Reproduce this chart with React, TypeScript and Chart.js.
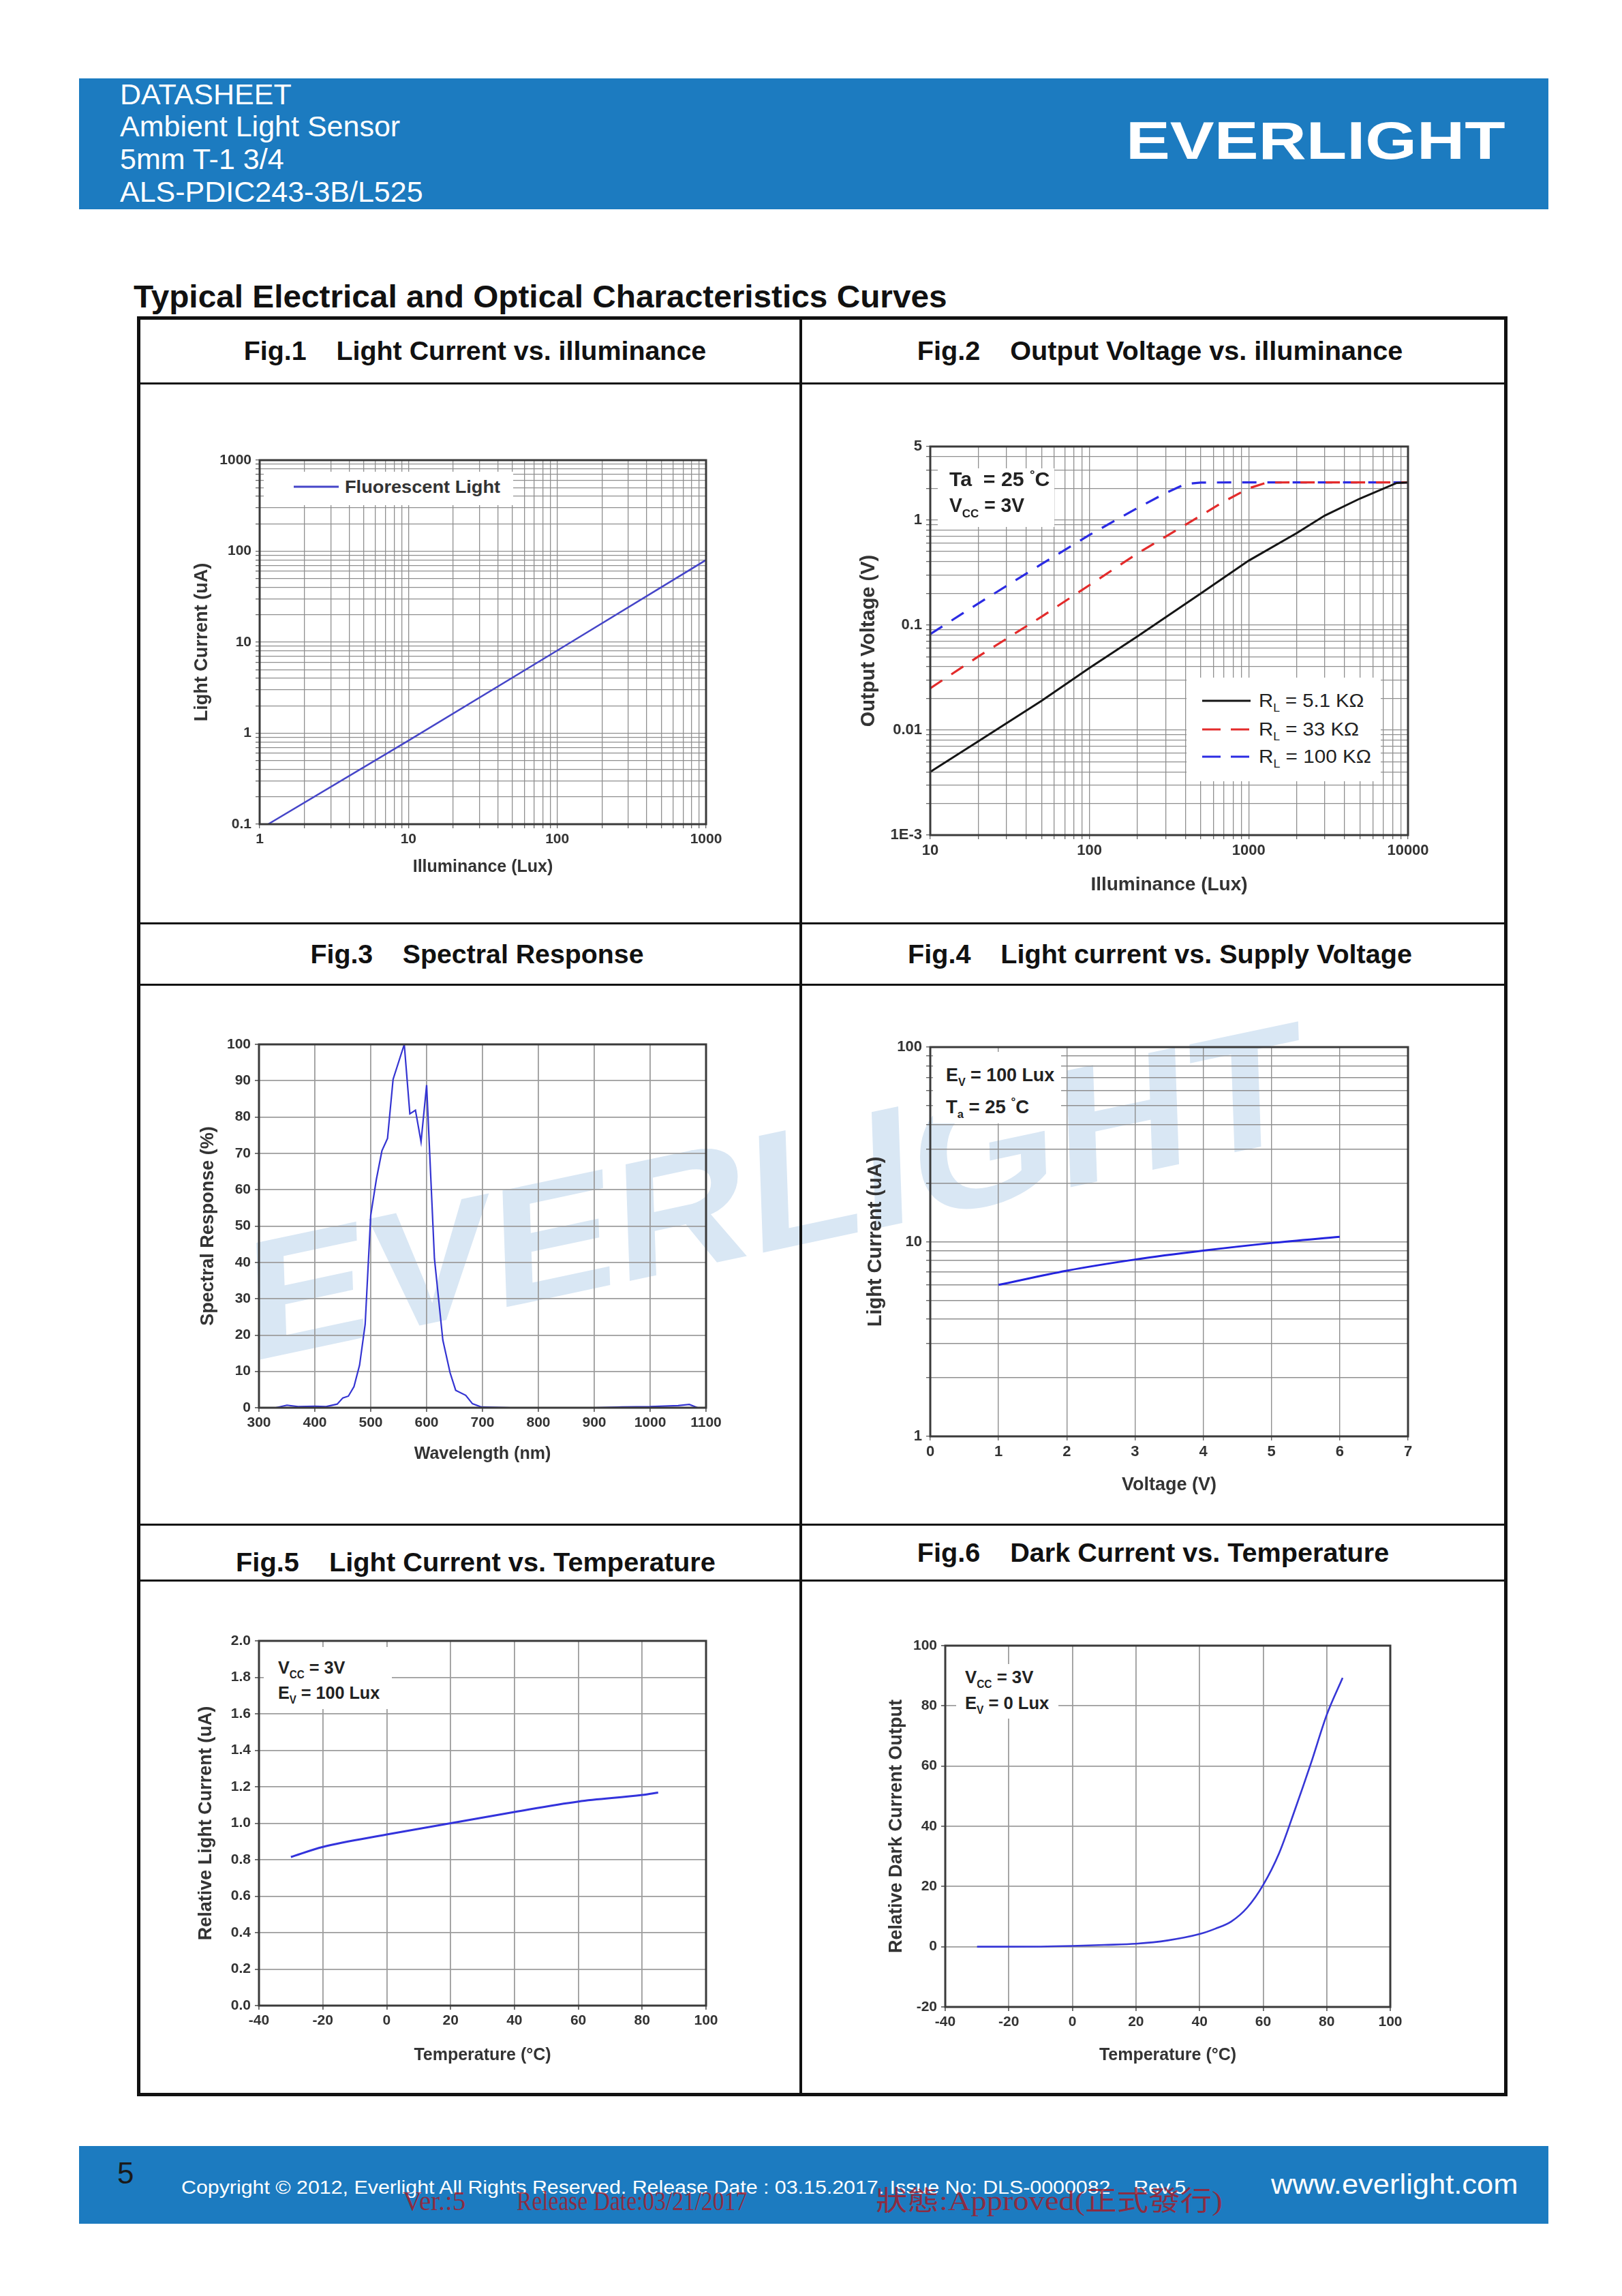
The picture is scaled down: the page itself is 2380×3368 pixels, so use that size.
import React, { useEffect, useLayoutEffect, useRef, useState } from 'react';
import { Chart, registerables } from 'chart.js';
Chart.register(...registerables);

const FONT = "'Liberation Sans', Arial, sans-serif";
const SERIF = "'Liberation Serif', 'Noto Sans CJK TC', serif";

// ---------------- data ----------------
// Fig.1 Light Current vs. illuminance
const fig1Lux = [1.14, 10, 100, 1000];
const fig1Current = [0.1, 0.83, 8.1, 80];
const fig1XTickValues = [1, 10, 100, 1000];
const fig1XTickLabels = ['1', '10', '100', '1000'];
const fig1YTickValues = [0.1, 1, 10, 100, 1000];
const fig1YTickLabels = ['0.1', '1', '10', '100', '1000'];

// Fig.2 Output Voltage vs. illuminance
const fig2Lux5k = [10, 20, 50, 100, 200, 500, 1000, 2000, 3000, 5000, 8500, 10000];
const fig2Volt5k = [0.004, 0.0078, 0.019, 0.039, 0.078, 0.2, 0.41, 0.75, 1.1, 1.6, 2.25, 2.27];
const fig2Lux33k = [10, 20, 50, 100, 200, 400, 700, 1000, 1300, 2000, 5000, 10000];
const fig2Volt33k = [0.025, 0.05, 0.12, 0.24, 0.48, 0.9, 1.5, 2.0, 2.27, 2.28, 2.28, 2.28];
const fig2Lux100k = [10, 20, 50, 100, 200, 300, 400, 500, 1000, 10000];
const fig2Volt100k = [0.082, 0.16, 0.38, 0.72, 1.3, 1.8, 2.2, 2.27, 2.28, 2.28];
const fig2XTickValues = [10, 100, 1000, 10000];
const fig2XTickLabels = ['10', '100', '1000', '10000'];
const fig2YTickValues = [0.001, 0.01, 0.1, 1, 5];
const fig2YTickLabels = ['1E-3', '0.01', '0.1', '1', '5'];

// Fig.3 Spectral Response
const fig3Wavelength = [330, 350, 370, 400, 420, 440, 450, 460, 470, 480, 490, 500, 510, 520, 530, 540, 560, 570, 580, 590, 600, 614, 629, 642, 652, 670, 682, 698, 750, 900, 950, 1000, 1050, 1070, 1085];
const fig3Response = [0, 0.7, 0.3, 0.4, 0.3, 1.0, 2.7, 3.2, 5.8, 11.7, 22.9, 53, 62.8, 70.7, 74.1, 90.4, 100, 80.9, 81.9, 73.2, 88.8, 41, 18.6, 9.6, 4.8, 3.4, 1.1, 0.2, 0, 0, 0.2, 0.3, 0.6, 0.9, 0];
const fig3XTicks = [300, 400, 500, 600, 700, 800, 900, 1000, 1100];
const fig3YTicks = [0, 10, 20, 30, 40, 50, 60, 70, 80, 90, 100];

// Fig.4 Light current vs. Supply Voltage
const fig4Voltage = [1, 2, 3, 4, 5, 6];
const fig4Current = [6.0, 7.1, 8.1, 9.0, 9.85, 10.6];
const fig4XTicks = [0, 1, 2, 3, 4, 5, 6, 7];
const fig4YTickValues = [1, 10, 100];
const fig4YTickLabels = ['1', '10', '100'];

// Fig.5 Light Current vs. Temperature
const fig5Temp = [-30, -20, 0, 20, 40, 60, 80, 85];
const fig5Relative = [0.815, 0.87, 0.938, 1.0, 1.062, 1.119, 1.155, 1.168];
const fig5XTicks = [-40, -20, 0, 20, 40, 60, 80, 100];
const fig5YTicks = [0, 0.2, 0.4, 0.6, 0.8, 1.0, 1.2, 1.4, 1.6, 1.8, 2.0];

// Fig.6 Dark Current vs. Temperature
const fig6Temp = [-30, -10, 0, 10, 20, 30, 40, 45, 50, 55, 60, 65, 70, 75, 80, 85];
const fig6Dark = [0, 0.05, 0.25, 0.6, 1.0, 2.1, 4.2, 6.0, 8.4, 13, 20.5, 31, 45.5, 60.8, 77, 89.3];
const fig6XTicks = [-40, -20, 0, 20, 40, 60, 80, 100];
const fig6YTicks = [-20, 0, 20, 40, 60, 80, 100];

// ---------------- helpers ----------------
function logGrid(min: number, max: number): number[] {
  const out: number[] = [];
  for (let e = Math.floor(Math.log10(min)); e <= Math.ceil(Math.log10(max)); e++) {
    for (let m = 1; m <= 9; m++) {
      const v = parseFloat((m * Math.pow(10, e)).toPrecision(6));
      if (v >= min * 0.9999 && v <= max * 1.0001) out.push(v);
    }
  }
  return out;
}
function labelFor(values: number[], labels: string[]) {
  return (v: number) => {
    const i = values.findIndex((t) => Math.abs(t - v) <= Math.abs(t) * 1e-6 + 1e-9);
    return i >= 0 ? labels[i] : '';
  };
}
const pts = (xs: number[], ys: number[]) => xs.map((x, i) => ({ x, y: ys[i] }));

type AxisSpec = {
  type: 'linear' | 'logarithmic';
  min: number;
  max: number;
  grid: number[];
  tickValues: number[];
  tickLabels: string[];
  title: string;
  titleSize: number;
  titlePos: number;
};
type Box = { l: number; t: number; r: number; b: number };
type ChartSpec = {
  plot: Box;
  x: AxisSpec;
  y: AxisSpec;
  datasets: any[];
  gridColor: string;
  gridWidth: number;
  tickSize: number;
};
const PAD = { l: 120, t: 30, r: 50, b: 110 };

const framePlugin = {
  id: 'frame',
  afterDatasetsDraw(chart: any) {
    const { ctx, chartArea: a } = chart;
    ctx.save();
    ctx.strokeStyle = '#3a3a3a';
    ctx.lineWidth = 3;
    ctx.strokeRect(a.left, a.top, a.right - a.left, a.bottom - a.top);
    ctx.restore();
  },
};

function buildConfig(spec: ChartSpec) {
  const { plot, x, y, datasets, gridColor, gridWidth, tickSize } = spec;
  const canvasLeft = plot.l - PAD.l;
  const canvasBottom = plot.b + PAD.b;
  const axis = (a: AxisSpec, horizontal: boolean) => ({
    type: a.type,
    min: a.min,
    max: a.max,
    position: horizontal ? 'bottom' : 'left',
    afterBuildTicks: (s: any) => {
      s.ticks = a.grid.map((v) => ({ value: v }));
    },
    afterFit: (s: any) => {
      if (horizontal) s.height = PAD.b;
      else s.width = PAD.l;
      s.paddingLeft = 0;
      s.paddingRight = 0;
      s.paddingTop = 0;
      s.paddingBottom = 0;
    },
    ticks: {
      autoSkip: false,
      maxRotation: 0,
      minRotation: 0,
      padding: horizontal ? 4 : 6,
      color: '#333',
      font: { family: FONT, size: tickSize, weight: 'bold' },
      callback: (v: any) => labelFor(a.tickValues, a.tickLabels)(Number(v)),
    },
    grid: { color: gridColor, lineWidth: gridWidth, drawTicks: true, tickLength: 6, tickColor: '#666' },
    border: { display: false },
    title: {
      display: true,
      text: a.title,
      color: '#333',
      font: { family: FONT, size: a.titleSize, weight: 'bold' },
      padding: horizontal
        ? { top: 0, bottom: canvasBottom - a.titlePos - 0.6 * a.titleSize }
        : { top: a.titlePos - canvasLeft - 0.6 * a.titleSize, bottom: 0 },
    },
  });
  return {
    type: 'line',
    data: { datasets },
    options: {
      responsive: false,
      animation: false,
      devicePixelRatio: 1,
      events: [],
      layout: { padding: { left: 0, top: PAD.t, right: PAD.r, bottom: 0 } },
      plugins: { legend: { display: false }, tooltip: { enabled: false } },
      scales: { x: axis(x, true), y: axis(y, false) },
    },
    plugins: [framePlugin],
  };
}

function ChartBox({ spec }: { spec: ChartSpec }) {
  const ref = useRef<HTMLCanvasElement>(null);
  useEffect(() => {
    const c = new Chart(ref.current as HTMLCanvasElement, buildConfig(spec) as any);
    return () => c.destroy();
  }, []);
  const w = spec.plot.r - spec.plot.l + PAD.l + PAD.r;
  const h = spec.plot.b - spec.plot.t + PAD.t + PAD.b;
  return (
    <canvas
      ref={ref}
      width={w}
      height={h}
      style={{ position: 'absolute', left: spec.plot.l - PAD.l, top: spec.plot.t - PAD.t, width: w, height: h }}
    />
  );
}

type TxtProps = {
  x: number;
  y: number;
  size: number;
  weight?: any;
  color?: string;
  family?: string;
  center?: boolean;
  width?: number;
  children: React.ReactNode;
};
function Txt({ x, y, size, weight = 'normal', color = '#000', family = FONT, center = false, width, children }: TxtProps) {
  const ref = useRef<HTMLSpanElement>(null);
  const [sx, setSx] = useState(1);
  useLayoutEffect(() => {
    if (width && ref.current) {
      const w = ref.current.offsetWidth;
      if (w > 0) setSx(width / w);
    }
  }, [width]);
  return (
    <span
      ref={ref}
      style={{
        position: 'absolute',
        left: x,
        top: y - 0.8465 * size,
        fontSize: size,
        lineHeight: `${size}px`,
        fontWeight: weight,
        color,
        fontFamily: family,
        whiteSpace: 'nowrap',
        display: 'inline-block',
        transform: center ? `translateX(-50%) scaleX(${sx})` : `scaleX(${sx})`,
        transformOrigin: center ? '50% 50%' : '0 50%',
      }}
    >
      {children}
    </span>
  );
}
const Sub = ({ children }: { children: React.ReactNode }) => (
  <span style={{ fontSize: '0.6em', position: 'relative', top: '0.45em' }}>{children}</span>
);
const Deg = () => <span style={{ fontSize: '0.62em', position: 'relative', top: '-0.65em' }}>°</span>;

const WhiteBox = ({ l, t, w, h }: { l: number; t: number; w: number; h: number }) => (
  <div style={{ position: 'absolute', left: l, top: t, width: w, height: h, background: '#fff' }} />
);
const HLine = ({ y, h = 3 }: { y: number; h?: number }) => (
  <div style={{ position: 'absolute', left: 201, top: y, width: 2011, height: h, background: '#111' }} />
);
function LegendLine({ x, y, w, color, dash }: { x: number; y: number; w: number; color: string; dash?: string }) {
  return (
    <svg style={{ position: 'absolute', left: x, top: y - 4, overflow: 'visible' }} width={w} height={8}>
      <line x1={0} y1={4} x2={w} y2={4} stroke={color} strokeWidth={3} strokeDasharray={dash} />
    </svg>
  );
}

// ---------------- chart specs ----------------
const lineDs = (data: any[], color: string, width: number, extra: any = {}) => ({
  data,
  borderColor: color,
  backgroundColor: color,
  borderWidth: width,
  pointRadius: 0,
  fill: false,
  tension: 0,
  ...extra,
});

const fig1Spec: ChartSpec = {
  plot: { l: 381, t: 675, r: 1036, b: 1209 },
  x: { type: 'logarithmic', min: 1, max: 1000, grid: logGrid(1, 1000), tickValues: fig1XTickValues, tickLabels: fig1XTickLabels, title: 'Illuminance (Lux)', titleSize: 25, titlePos: 1272 },
  y: { type: 'logarithmic', min: 0.1, max: 1000, grid: logGrid(0.1, 1000), tickValues: fig1YTickValues, tickLabels: fig1YTickLabels, title: 'Light Current (uA)', titleSize: 27, titlePos: 297 },
  datasets: [lineDs(pts(fig1Lux, fig1Current), '#4545c8', 2.5)],
  gridColor: '#8f8f8f',
  gridWidth: 1.3,
  tickSize: 21,
};

const fig2Spec: ChartSpec = {
  plot: { l: 1365, t: 655, r: 2066, b: 1225 },
  x: { type: 'logarithmic', min: 10, max: 10000, grid: logGrid(10, 10000), tickValues: fig2XTickValues, tickLabels: fig2XTickLabels, title: 'Illuminance (Lux)', titleSize: 28, titlePos: 1298 },
  y: { type: 'logarithmic', min: 0.001, max: 5, grid: logGrid(0.001, 5), tickValues: fig2YTickValues, tickLabels: fig2YTickLabels, title: 'Output Voltage (V)', titleSize: 29, titlePos: 1275 },
  datasets: [
    lineDs(pts(fig2Lux5k, fig2Volt5k), '#151515', 3),
    lineDs(pts(fig2Lux33k, fig2Volt33k), '#e32b2b', 3.2, { borderDash: [21, 16] }),
    lineDs(pts(fig2Lux100k, fig2Volt100k), '#2b2be3', 3.2, { borderDash: [21, 16] }),
  ],
  gridColor: '#8f8f8f',
  gridWidth: 1.3,
  tickSize: 22,
};

const fig3Spec: ChartSpec = {
  plot: { l: 380, t: 1532, r: 1036, b: 2065 },
  x: { type: 'linear', min: 300, max: 1100, grid: fig3XTicks, tickValues: fig3XTicks, tickLabels: fig3XTicks.map(String), title: 'Wavelength (nm)', titleSize: 25, titlePos: 2133 },
  y: { type: 'linear', min: 0, max: 100, grid: fig3YTicks, tickValues: fig3YTicks, tickLabels: fig3YTicks.map(String), title: 'Spectral Response (%)', titleSize: 27, titlePos: 306 },
  datasets: [lineDs(pts(fig3Wavelength, fig3Response), '#3434d2', 2.2)],
  gridColor: '#9c9c9c',
  gridWidth: 1.8,
  tickSize: 21,
};

const fig4Spec: ChartSpec = {
  plot: { l: 1365, t: 1536, r: 2066, b: 2107 },
  x: { type: 'linear', min: 0, max: 7, grid: fig4XTicks, tickValues: fig4XTicks, tickLabels: fig4XTicks.map(String), title: 'Voltage (V)', titleSize: 27, titlePos: 2179 },
  y: { type: 'logarithmic', min: 1, max: 100, grid: logGrid(1, 100), tickValues: fig4YTickValues, tickLabels: fig4YTickLabels, title: 'Light Current (uA)', titleSize: 29, titlePos: 1285 },
  datasets: [lineDs(pts(fig4Voltage, fig4Current), '#2424de', 3, { cubicInterpolationMode: 'monotone' })],
  gridColor: '#8f8f8f',
  gridWidth: 1.4,
  tickSize: 22,
};

const fig5Spec: ChartSpec = {
  plot: { l: 380, t: 2407, r: 1036, b: 2942 },
  x: { type: 'linear', min: -40, max: 100, grid: fig5XTicks, tickValues: fig5XTicks, tickLabels: fig5XTicks.map(String), title: 'Temperature (°C)', titleSize: 25, titlePos: 3015 },
  y: { type: 'linear', min: 0, max: 2, grid: fig5YTicks, tickValues: fig5YTicks, tickLabels: fig5YTicks.map((v) => v.toFixed(1)), title: 'Relative Light Current (uA)', titleSize: 27, titlePos: 303 },
  datasets: [lineDs(pts(fig5Temp, fig5Relative), '#3333dc', 3, { cubicInterpolationMode: 'monotone' })],
  gridColor: '#9c9c9c',
  gridWidth: 1.8,
  tickSize: 21,
};

const fig6Spec: ChartSpec = {
  plot: { l: 1387, t: 2414, r: 2040, b: 2944 },
  x: { type: 'linear', min: -40, max: 100, grid: fig6XTicks, tickValues: fig6XTicks, tickLabels: fig6XTicks.map(String), title: 'Temperature (°C)', titleSize: 25, titlePos: 3015 },
  y: { type: 'linear', min: -20, max: 100, grid: fig6YTicks, tickValues: fig6YTicks, tickLabels: fig6YTicks.map(String), title: 'Relative Dark Current Output', titleSize: 27, titlePos: 1316 },
  datasets: [lineDs(pts(fig6Temp, fig6Dark), '#3636d6', 2.6, { cubicInterpolationMode: 'monotone' })],
  gridColor: '#9c9c9c',
  gridWidth: 1.8,
  tickSize: 21,
};

const BLUE = '#1c7bc0';
const NB = '\u00a0\u00a0\u00a0\u00a0';
const RED = 'rgba(160,30,45,0.85)';

export default function App() {
  return (
    <div style={{ position: 'absolute', left: 0, top: 0, width: 2380, height: 3368, background: '#fff', overflow: 'hidden', fontFamily: FONT }}>
      {/* header */}
      <div style={{ position: 'absolute', left: 116, top: 115, width: 2156, height: 192, background: BLUE }} />
      <Txt x={176} y={153} size={43} color="#fff">DATASHEET</Txt>
      <Txt x={176} y={200} size={43} color="#fff">Ambient Light Sensor</Txt>
      <Txt x={176} y={248} size={43} color="#fff">5mm T-1 3/4</Txt>
      <Txt x={176} y={296} size={43} color="#fff">ALS-PDIC243-3B/L525</Txt>
      <Txt x={1652} y={233} size={77} weight={900} color="#fff" width={557}>EVERLIGHT</Txt>

      {/* watermark */}
      <span
        style={{
          position: 'absolute',
          left: 364,
          top: 1998 - 0.8465 * 245,
          fontSize: 245,
          lineHeight: '245px',
          fontWeight: 900,
          color: '#d9e7f4',
          fontFamily: FONT,
          whiteSpace: 'nowrap',
          transformOrigin: `0px ${0.8465 * 245}px`,
          transform: 'rotate(-12deg) skewX(-10deg) scaleX(1.13)',
        }}
      >
        EVERLIGHT
      </span>

      {/* main title */}
      <Txt x={196} y={451} size={46} weight="bold" color="#111" width={1194}>Typical Electrical and Optical Characteristics Curves</Txt>

      {/* table */}
      <div style={{ position: 'absolute', left: 201, top: 464, width: 2011, height: 2611, border: '5px solid #111', boxSizing: 'border-box' }} />
      <div style={{ position: 'absolute', left: 1173, top: 464, width: 4, height: 2611, background: '#111' }} />
      <HLine y={561} />
      <HLine y={1353} />
      <HLine y={1443} />
      <HLine y={2235} />
      <HLine y={2317} />

      <Txt x={697} y={528} size={38} weight="bold" color="#111" center width={679}>{`Fig.1${NB}Light Current vs. illuminance`}</Txt>
      <Txt x={1702} y={528} size={38} weight="bold" color="#111" center width={712}>{`Fig.2${NB}Output Voltage vs. illuminance`}</Txt>
      <Txt x={700} y={1413} size={38} weight="bold" color="#111" center width={489}>{`Fig.3${NB}Spectral Response`}</Txt>
      <Txt x={1702} y={1413} size={38} weight="bold" color="#111" center width={740}>{`Fig.4${NB}Light current vs. Supply Voltage`}</Txt>
      <Txt x={698} y={2305} size={38} weight="bold" color="#111" center width={704}>{`Fig.5${NB}Light Current vs. Temperature`}</Txt>
      <Txt x={1692} y={2291} size={38} weight="bold" color="#111" center width={693}>{`Fig.6${NB}Dark Current vs. Temperature`}</Txt>

      {/* charts */}
      <ChartBox spec={fig1Spec} />
      <ChartBox spec={fig2Spec} />
      <ChartBox spec={fig3Spec} />
      <ChartBox spec={fig4Spec} />
      <ChartBox spec={fig5Spec} />
      <ChartBox spec={fig6Spec} />

      {/* Fig1 legend */}
      <WhiteBox l={387} t={692} w={366} h={49} />
      <LegendLine x={431} y={714} w={66} color="#4545c8" />
      <Txt x={506} y={723} size={26} weight="bold" color="#333" width={228}>Fluorescent Light</Txt>

      {/* Fig2 annotations */}
      <WhiteBox l={1376} t={687} w={171} h={86} />
      <Txt x={1393} y={714} size={29} weight="bold" color="#222" width={147}>
        Ta&nbsp;&nbsp;= 25 <Deg />C
      </Txt>
      <Txt x={1393} y={752} size={29} weight="bold" color="#222" width={110}>
        V<Sub>CC</Sub> = 3V
      </Txt>
      <WhiteBox l={1741} t={994} w={285} h={152} />
      <LegendLine x={1764} y={1028} w={71} color="#151515" />
      <LegendLine x={1764} y={1070} w={71} color="#e32b2b" dash="27 15" />
      <LegendLine x={1764} y={1110} w={71} color="#2b2be3" dash="27 15" />
      <Txt x={1847} y={1038} size={27} color="#222" width={155}>
        R<Sub>L</Sub> = 5.1 KΩ
      </Txt>
      <Txt x={1847} y={1080} size={27} color="#222" width={147}>
        R<Sub>L</Sub> = 33 KΩ
      </Txt>
      <Txt x={1847} y={1120} size={27} color="#222" width={165}>
        R<Sub>L</Sub> = 100 KΩ
      </Txt>

      {/* Fig4 annotations */}
      <WhiteBox l={1369} t={1543} w={188} h={105} />
      <Txt x={1388} y={1587} size={27} weight="bold" color="#222" width={159}>
        E<Sub>V</Sub> = 100 Lux
      </Txt>
      <Txt x={1388} y={1634} size={27} weight="bold" color="#222" width={122}>
        T<Sub>a</Sub> = 25 <Deg />C
      </Txt>

      {/* Fig5 annotations */}
      <WhiteBox l={387} t={2416} w={188} h={91} />
      <Txt x={408} y={2455} size={26} weight="bold" color="#222" width={98}>
        V<Sub>CC</Sub> = 3V
      </Txt>
      <Txt x={408} y={2492} size={26} weight="bold" color="#222" width={149}>
        E<Sub>V</Sub> = 100 Lux
      </Txt>

      {/* Fig6 annotations */}
      <WhiteBox l={1403} t={2441} w={150} h={80} />
      <Txt x={1416} y={2469} size={26} weight="bold" color="#222" width={100}>
        V<Sub>CC</Sub> = 3V
      </Txt>
      <Txt x={1416} y={2507} size={26} weight="bold" color="#222" width={123}>
        E<Sub>V</Sub> = 0 Lux
      </Txt>

      {/* footer */}
      <div style={{ position: 'absolute', left: 116, top: 3148, width: 2156, height: 114, background: BLUE }} />
      <Txt x={172} y={3203} size={44} color="#1a1a1a">5</Txt>
      <Txt x={266} y={3219} size={28} color="#fff" width={1474}>
        {`Copyright © 2012, Everlight All Rights Reserved. Release Date : 03.15.2017. Issue No: DLS-0000082${NB}Rev.5`}
      </Txt>
      <Txt x={1865} y={3218} size={40} color="#fff" width={362}>www.everlight.com</Txt>
      <Txt x={591} y={3243} size={40} family={SERIF} color={RED} width={92}>Ver.:5</Txt>
      <Txt x={758} y={3243} size={40} family={SERIF} color={RED} width={338}>Release Date:03/21/2017</Txt>
      <Txt x={1285} y={3243} size={40} family={SERIF} color={RED} width={509}>狀態:Approved(正式發行)</Txt>
    </div>
  );
}
